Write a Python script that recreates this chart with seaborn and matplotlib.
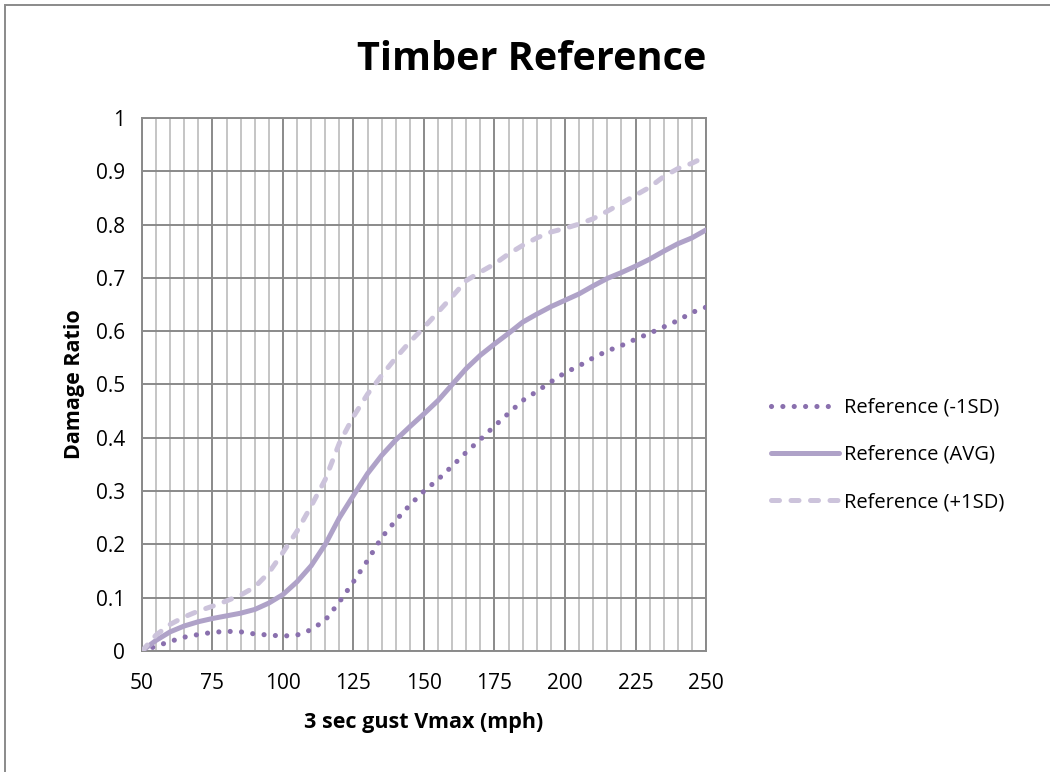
import numpy as np
import pandas as pd
import matplotlib
matplotlib.use("Agg")
import matplotlib.pyplot as plt
import seaborn as sns
from matplotlib.patches import Rectangle

sns.set_theme(style="white")
plt.rcParams['font.family'] = ['Open Sans', 'DejaVu Sans']
plt.rcParams['text.color'] = 'black'
plt.rcParams['axes.labelcolor'] = 'black'

# ---- data ----
speed = [50, 55, 60, 65, 70, 75, 80, 85, 90, 95, 100, 105, 110, 115, 120, 125, 130,
         135, 140, 145, 150, 155, 160, 165, 170, 175, 180, 185, 190, 195, 200, 205,
         210, 215, 220, 225, 230, 235, 240, 245, 250]
ref_minus1sd = [0.0, 0.009, 0.018, 0.026, 0.031, 0.035, 0.037, 0.036, 0.032, 0.030, 0.028,
                0.030, 0.040, 0.058, 0.092, 0.130, 0.170, 0.213, 0.245, 0.274, 0.300,
                0.322, 0.347, 0.373, 0.397, 0.422, 0.446, 0.470, 0.487, 0.505, 0.522,
                0.535, 0.550, 0.563, 0.573, 0.585, 0.596, 0.608, 0.620, 0.635, 0.645]
ref_avg = [0.0, 0.020, 0.036, 0.047, 0.055, 0.061, 0.066, 0.071, 0.078, 0.090, 0.106,
           0.130, 0.160, 0.200, 0.250, 0.292, 0.333, 0.367, 0.396, 0.421, 0.445,
           0.470, 0.500, 0.530, 0.555, 0.576, 0.596, 0.617, 0.632, 0.646, 0.658,
           0.670, 0.685, 0.699, 0.710, 0.722, 0.735, 0.750, 0.764, 0.775, 0.790]
ref_plus1sd = [0.0, 0.030, 0.050, 0.064, 0.075, 0.084, 0.094, 0.105, 0.120, 0.147, 0.185,
               0.225, 0.272, 0.322, 0.390, 0.440, 0.482, 0.517, 0.550, 0.580, 0.607,
               0.636, 0.665, 0.695, 0.711, 0.726, 0.745, 0.761, 0.775, 0.786, 0.793,
               0.801, 0.811, 0.825, 0.840, 0.855, 0.870, 0.890, 0.905, 0.915, 0.928]
series_names = ["Reference (-1SD)", "Reference (AVG)", "Reference (+1SD)"]
x_ticks = [50, 75, 100, 125, 150, 175, 200, 225, 250]
y_ticks = [0, 0.1, 0.2, 0.3, 0.4, 0.5, 0.6, 0.7, 0.8, 0.9, 1]
y_ticklabels = ["0", "0.1", "0.2", "0.3", "0.4", "0.5", "0.6", "0.7", "0.8", "0.9", "1"]

df = pd.DataFrame({
    "speed": speed * 3,
    "ratio": ref_minus1sd + ref_avg + ref_plus1sd,
    "series": sum([[n] * len(speed) for n in series_names], []),
})

fig = plt.figure(figsize=(10.5, 7.72), dpi=100)
ax = fig.add_axes([0.1352, 0.1567, 0.5372, 0.6905])

styles = {
    "Reference (-1SD)": dict(color="#8A70AE", lw=3.7, ls=(0, (0.01, 2.2))),
    "Reference (AVG)": dict(color="#AFA2C8", lw=3.6, ls="-"),
    "Reference (+1SD)": dict(color="#CCC3DB", lw=3.6, ls=(0, (1.6, 2.3))),
}
for name in series_names:
    st = styles[name]
    sub = df[df["series"] == name]
    sns.lineplot(data=sub, x="speed", y="ratio", ax=ax, color=st["color"],
                 linewidth=st["lw"], linestyle=st["ls"], label=name,
                 solid_capstyle="round", dash_capstyle="round", zorder=3)

ax.set_xlim(50, 250)
ax.set_ylim(0, 1)
ax.set_xticks(x_ticks)
ax.set_xticks(np.arange(50, 251, 5), minor=True)
ax.set_yticks(y_ticks)
ax.set_yticklabels(y_ticklabels)
ax.grid(which="minor", axis="x", color="#C0C0C0", lw=1.3, zorder=0)
ax.grid(which="major", axis="both", color="#8A8A8A", lw=1.4, zorder=1)
for s in ax.spines.values():
    s.set_color("#8A8A8A")
    s.set_linewidth(1.4)
ax.tick_params(axis="both", which="major", direction="out", length=6, width=1.4,
               color="#8A8A8A", labelsize=15, labelcolor="black", pad=6)
ax.tick_params(axis="both", which="minor", length=0)
ax.tick_params(axis="x", pad=10)
ax.set_xlabel("3 sec gust Vmax (mph)", fontsize=15.5, fontweight="bold", labelpad=13)
ax.set_ylabel("Damage Ratio", fontsize=15.5, fontweight="bold", labelpad=8)

leg = ax.legend(loc="center left", bbox_to_anchor=(1.083, 0.368), frameon=False,
                fontsize=14.5, handlelength=3.4, handletextpad=0.25, labelspacing=1.35)

fig.text(0.506, 0.923, "Timber Reference", ha="center", va="center",
         fontsize=28.5, fontweight="bold")

fig.patches.append(Rectangle((5 / 1050, -0.05), 1.1, 1 - 5 / 772 + 0.05,
                             transform=fig.transFigure, fill=False,
                             edgecolor="#8A8A8A", lw=1.4))

fig.savefig("out.png", dpi=100, facecolor="white")
